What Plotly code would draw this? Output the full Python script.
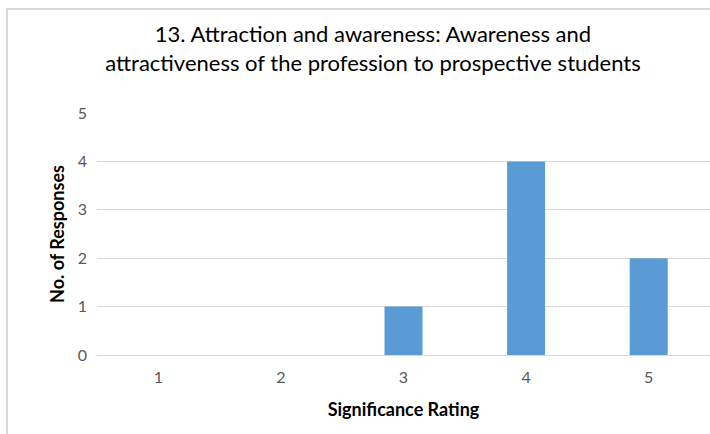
import plotly.graph_objects as go

categories = ["1", "2", "3", "4", "5"]
responses = [0, 0, 1, 4, 2]
y_ticks = [0, 1, 2, 3, 4, 5]

W, H = 710, 434
L, R, T, B = 97, 0, 113, 79
pw, ph = W - L - R, H - T - B

def px_x(x):
    return (x - L) / pw

def px_y(y):
    return (H - B - y) / ph

FONT = "Lato, Calibri, Carlito, sans-serif"

fig = go.Figure(go.Bar(
    x=categories, y=responses, marker_color="#5b9bd5", width=0.31,
    marker_line_width=0,
))

fig.update_layout(
    width=W, height=H,
    margin=dict(l=L, r=R, t=T, b=B, autoexpand=False),
    paper_bgcolor="white", plot_bgcolor="white",
    showlegend=False,
    title=dict(
        text="13. Attraction and awareness: Awareness and<br>attractiveness of the profession to prospective students",
        x=px_x(373), xanchor="center", xref="paper",
        y=1 - 42 / H, yanchor="top",
        font=dict(family=FONT, size=22, color="#000000"),
        automargin=False,
    ),
    xaxis=dict(
        type="category", showgrid=False, showline=True, linecolor="#d9d9d9",
        ticks="", automargin=False, ticklabelstandoff=8,
        tickfont=dict(family=FONT, size=16, color="#595959"),
        title=dict(text="<b>Significance Rating</b>", font=dict(family=FONT, size=18, color="#000000"), standoff=18),
    ),
    yaxis=dict(
        range=[0, 5], tickvals=y_ticks, showgrid=True, gridcolor="#d9d9d9",
        zeroline=False, showline=False, ticks="", automargin=False,
        ticklabelstandoff=9,
        tickfont=dict(family=FONT, size=16, color="#595959"),
        title=dict(text="<b>No. of Responses</b>", font=dict(family=FONT, size=18, color="#000000"), standoff=8),
    ),
    shapes=[dict(
        type="rect", xref="paper", yref="paper",
        x0=px_x(7), x1=px_x(760), y0=px_y(480), y1=px_y(9),
        line=dict(color="#d9d9d9", width=2), fillcolor="rgba(0,0,0,0)", layer="below",
    )],
)

fig.write_html("out.html", config={"displayModeBar": False},
               post_script="document.body.style.margin='0';")
